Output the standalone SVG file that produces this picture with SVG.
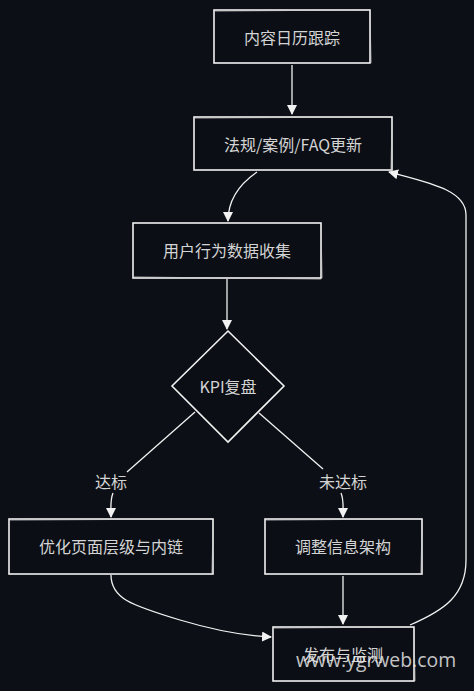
<svg xmlns="http://www.w3.org/2000/svg" width="474" height="691" viewBox="0 0 474 691">
<defs>
<style>
.node{fill:#0b0e14;stroke:#f2f2f2;stroke-width:1.6}
.sk{fill:none;stroke:#cfcfcf;stroke-width:0.8}
.t{font-family:"Noto Sans CJK SC","Noto Sans",sans-serif;font-size:16px;fill:#d4d4d4;text-anchor:middle;dominant-baseline:central}
.e{fill:none;stroke:#f2f2f2;stroke-width:1.3}
</style>
<marker id="ah" viewBox="0 0 10 10" refX="9" refY="5" markerWidth="10" markerHeight="10" markerUnits="userSpaceOnUse" orient="auto">
<path d="M0,0 L10,5 L0,10 z" fill="#f2f2f2"/>
</marker>
</defs>
<rect width="474" height="691" fill="#0c0f16"/>
<g id="connectors">
<path class="e" d="M292,65 L292,114" marker-end="url(#ah)"/>
<path class="e" d="M257,172 C238,185 228,200 228,221" marker-end="url(#ah)"/>
<path class="e" d="M227,279 L227,329" marker-end="url(#ah)"/>
<path class="e" d="M195,412 L127,472"/>
<path class="e" d="M113,493 C110,500 111,508 111,517" marker-end="url(#ah)"/>
<path class="e" d="M259,413 L323,469"/>
<path class="e" d="M341,493 C344,500 343,508 343,517" marker-end="url(#ah)"/>
<path class="e" d="M111,575 C111,598 130,605 180,620 C220,632 250,636 271,637" marker-end="url(#ah)"/>
<path class="e" d="M343,576 L343,624" marker-end="url(#ah)"/>
<path class="e" d="M410,625 C445,610 466,595 466,560 L466,215 C466,190 430,183 389,172" marker-end="url(#ah)"/>
<text class="t" x="111" y="481">达标</text>
<text class="t" x="343" y="481">未达标</text>
</g>
<g id="n1">
<rect class="node" x="214" y="10" width="156" height="53"/>
<path class="sk" d="M215,11 L369,10 M370,11 L371,63"/>
<text class="t" x="292" y="37">内容日历跟踪</text>
</g>
<g id="n2">
<rect class="node" x="194" y="117" width="198" height="53"/>
<path class="sk" d="M195,118 L391,117 M392,118 L391,171"/>
<text class="t" x="293" y="144">法规/案例/FAQ更新</text>
</g>
<g id="n3">
<rect class="node" x="133" y="223" width="188" height="55"/>
<path class="sk" d="M134,277 L321,279 M321,224 L322,278"/>
<text class="t" x="227" y="250">用户行为数据收集</text>
</g>
<g id="n4">
<path class="node" d="M228,331 L284,386 L228,442 L172,386 Z"/>
<text class="t" x="228" y="386">KPI复盘</text>
</g>
<g id="n5">
<rect class="node" x="9" y="519" width="204" height="55"/>
<path class="sk" d="M10,520 L212,519 M213,520 L212,574"/>
<text class="t" x="111" y="546">优化页面层级与内链</text>
</g>
<g id="n6">
<rect class="node" x="265" y="519" width="157" height="55"/>
<path class="sk" d="M266,520 L421,519 M422,520 L421,574"/>
<text class="t" x="343" y="546">调整信息架构</text>
</g>
<g id="n7">
<rect class="node" x="273" y="627" width="141" height="54"/>
<path class="sk" d="M274,628 L413,627 M414,628 L415,681"/>
<text class="t" x="343" y="654">发布与监测</text>
</g>
<text x="296" y="667" font-family="Open Sans,'DejaVu Sans',sans-serif" font-size="19.4" fill="#e6e6e6" fill-opacity="0.85">www.ygrweb.com</text>
</svg>
